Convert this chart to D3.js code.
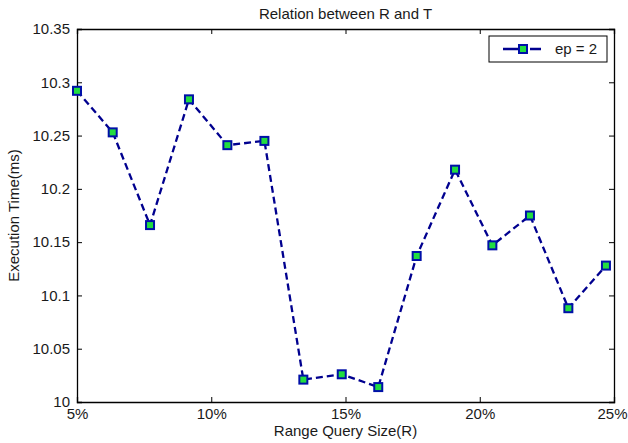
<!DOCTYPE html>
<html>
<head>
<meta charset="utf-8">
<script src="https://cdn.jsdelivr.net/npm/d3@7"></script>
<style>
  body { margin: 0; background: #fff; }
</style>
</head>
<body>
<div id="chart"></div>
<script>
// range query size (%) and execution time (ms)
const rangeSize = [5, 6.33, 7.72, 9.17, 10.6, 11.98, 13.43, 14.86, 16.22, 17.65, 19.08, 20.47, 21.87, 23.3, 24.7];
const execTime = [10.292, 10.253, 10.166, 10.284, 10.241, 10.245, 10.021, 10.026, 10.014, 10.137, 10.218, 10.147, 10.175, 10.088, 10.128];
const xTicks = [5, 10, 15, 20, 25];
const yTicks = [10, 10.05, 10.1, 10.15, 10.2, 10.25, 10.3, 10.35];
const seriesName = 'ep = 2';

const W = 628, H = 443;
const margin = { top: 29, right: 14, bottom: 41, left: 77 };
const width = W - margin.left - margin.right;
const height = H - margin.top - margin.bottom;
const font = 'Arial, "Liberation Sans", sans-serif';
const fs = '15px';
const lineColor = '#00008f';
const markerFill = '#22dd40';
const markerEdge = '#0010a8';

const svg = d3.select('#chart').append('svg')
  .attr('width', W).attr('height', H)
  .style('font-family', font);

const g = svg.append('g').attr('transform', `translate(${margin.left},${margin.top})`);

const x = d3.scaleLinear().domain([5, 25]).range([0, width]);
const y = d3.scaleLinear().domain([10, 10.35]).range([height, 0]);

// axes with inward ticks on all four sides (matlab box)
const styleAxis = gg => {
  gg.select('.domain').attr('stroke', '#000').attr('stroke-width', 1.3);
  gg.selectAll('.tick line').attr('stroke', '#000');
  gg.selectAll('.tick text').attr('fill', '#1a1a1a').attr('font-size', fs).attr('font-family', font);
};

g.append('g').attr('transform', `translate(0,${height})`)
  .call(d3.axisBottom(x).tickValues(xTicks).tickSize(-5).tickPadding(6).tickFormat(d => d + '%'))
  .call(styleAxis)
  // last label sits against the window edge
  .call(gg => gg.selectAll('.tick text').filter(d => d === 25).attr('dx', '-2px'));
g.append('g')
  .call(d3.axisTop(x).tickValues(xTicks).tickSize(-5).tickFormat(''))
  .call(styleAxis);
g.append('g')
  .call(d3.axisLeft(y).tickValues(yTicks).tickSize(-5).tickPadding(7).tickFormat(d3.format('~g')))
  .call(styleAxis);
g.append('g').attr('transform', `translate(${width},0)`)
  .call(d3.axisRight(y).tickValues(yTicks).tickSize(-5).tickFormat(''))
  .call(styleAxis);

// line
const pts = rangeSize.map((r, i) => ({ r, t: execTime[i] }));
g.append('path').datum(pts)
  .attr('fill', 'none').attr('stroke', lineColor).attr('stroke-width', 2.3)
  .attr('stroke-dasharray', '7,4')
  .attr('d', d3.line().x(d => x(d.r)).y(d => y(d.t)));

// markers
const ms = 8;
g.selectAll('rect.mk').data(pts).join('rect')
  .attr('class', 'mk')
  .attr('x', d => x(d.r) - ms / 2).attr('y', d => y(d.t) - ms / 2)
  .attr('width', ms).attr('height', ms)
  .attr('fill', markerFill).attr('stroke', markerEdge).attr('stroke-width', 2);

// legend
const lg = g.append('g').attr('transform', `translate(${width - 125},7)`);
lg.append('rect').attr('width', 118).attr('height', 26)
  .attr('fill', '#fff').attr('stroke', '#000').attr('stroke-width', 1);
lg.append('line').attr('x1', 14).attr('x2', 60).attr('y1', 13).attr('y2', 13)
  .attr('stroke', lineColor).attr('stroke-width', 2.3).attr('stroke-dasharray', '21,6,11');
lg.append('rect').attr('x', 34 - ms / 2).attr('y', 13 - ms / 2).attr('width', ms).attr('height', ms)
  .attr('fill', markerFill).attr('stroke', markerEdge).attr('stroke-width', 2);
lg.append('text').attr('x', 66).attr('y', 13).attr('dy', '0.35em')
  .attr('font-size', fs).attr('fill', '#1a1a1a').text(seriesName);

// title and axis labels
svg.append('text').attr('x', margin.left + width / 2).attr('y', 19)
  .attr('text-anchor', 'middle').attr('font-size', fs).attr('fill', '#1a1a1a').text('Relation between R and T');
svg.append('text').attr('x', margin.left + width / 2).attr('y', 436)
  .attr('text-anchor', 'middle').attr('font-size', fs).attr('fill', '#1a1a1a').text('Range Query Size(R)');
svg.append('text').attr('transform', `translate(19,${margin.top + height / 2}) rotate(-90)`)
  .attr('text-anchor', 'middle').attr('font-size', fs).attr('fill', '#1a1a1a').text('Execution Time(ms)');
</script>
</body>
</html>
